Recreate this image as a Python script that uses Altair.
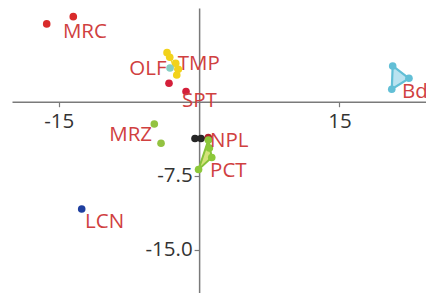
import altair as alt
import pandas as pd

# ---- values ----
pt_series = ["MRC", "MRC", "SPT", "SPT", "TMP", "TMP", "TMP", "TMP", "TMP", "OLF",
             "MRZ", "MRZ", "NPL", "NPL", "NPLr", "PCT", "PCT", "PCT", "PCT", "LCN",
             "BdB", "BdB", "BdB"]
pt_x = [-16.29, -13.45, -3.22, -1.40, -3.43, -3.14, -2.50, -2.22, -2.39, -3.11,
        -4.79, -4.07, -0.44, 0.20, 0.98, 0.99, 1.10, 1.35, -0.06, -12.55,
        20.69, 22.43, 20.59]
pt_y = [7.89, 8.62, 1.87, 1.03, 4.97, 4.50, 3.89, 3.29, 2.71, 3.42,
        -2.26, -4.22, -3.73, -3.73, -3.65, -3.89, -4.69, -5.66, -6.87, -10.88,
        3.62, 2.37, 1.26]

series_names = ["MRC", "SPT", "TMP", "OLF", "MRZ", "NPL", "NPLr", "PCT", "LCN", "BdB"]
series_colors = ["#d92b2b", "#d41f3a", "#f2d21b", "#86cfc3", "#93c241", "#262626",
                 "#b0222e", "#8cc83a", "#1f3f9f", "#62bfd6"]

# outlines (hulls) of groups
hull_group = ["BdB", "BdB", "BdB", "PCT", "PCT", "PCT", "TMP", "TMP", "TMP", "TMP", "TMP",
              "NPL", "NPL", "NPL"]
hull_x = [20.69, 22.43, 20.59, 0.99, 1.35, -0.06, -3.43, -2.50, -2.22, -2.39, -3.14,
          -0.44, 0.20, 0.98]
hull_y = [3.62, 2.37, 1.26, -3.89, -5.66, -6.87, 4.97, 3.89, 3.29, 2.71, 4.50,
          -3.73, -3.73, -3.65]

lab_text = ["MRC", "OLF", "TMP", "SPT", "MRZ", "NPL", "PCT", "LCN", "BdB"]
lab_x = [-14.56, -3.48, -2.29, -1.83, -5.03, 1.17, 1.17, -12.19, 21.69]
lab_y = [7.06, 3.32, 3.83, 0.07, -3.38, -4.03, -7.03, -12.15, 0.98]
lab_align = ["left", "right", "left", "left", "right", "left", "left", "left", "left"]

x_ticks = [-15, 15]
y_ticks = [-7.5, -15.0]
x_dom = [-20, 24.25]
y_dom = [-19.4, 9.5]

W, H = 414, 285
FONT = "Open Sans"
FS = 20.5

pts = pd.DataFrame({"series": pt_series, "x": pt_x, "y": pt_y})
hull = pd.DataFrame({"g": hull_group, "x": hull_x, "y": hull_y})
hull["o"] = range(len(hull))
labs = pd.DataFrame({"t": lab_text, "x": lab_x, "y": lab_y, "a": lab_align})

x_off = -H * (0 - y_dom[0]) / (y_dom[1] - y_dom[0])
y_off = -W * (0 - x_dom[0]) / (x_dom[1] - x_dom[0])

xs = alt.Scale(domain=x_dom, nice=False, zero=False)
ys = alt.Scale(domain=y_dom, nice=False, zero=False)
axis_common = dict(title=None, grid=False, domainColor="#7a7a7a", domainWidth=1.5,
                   tickColor="#7a7a7a", tickWidth=1.2, tickSize=5,
                   labelFont=FONT, labelFontSize=FS, labelColor="#333333",
                   labelExpr="replace(datum.label, '\u2212', '-')")

X = alt.X("x:Q", scale=xs, axis=alt.Axis(values=x_ticks, format="d", offset=x_off,
                                          labelPadding=5, **axis_common))
Y = alt.Y("y:Q", scale=ys, axis=alt.Axis(values=y_ticks, format=".1f", offset=y_off,
                                          labelPadding=2, **axis_common))

layers = []
hull_style = {
    "BdB": dict(fill="#a9dcec", fillOpacity=0.8, stroke="#62bfd6", strokeWidth=2.2,
                interpolate="linear-closed"),
    "PCT": dict(fill="#c9dc5a", fillOpacity=0.8, stroke="#86c23a", strokeWidth=2.0,
                interpolate="linear-closed"),
    "TMP": dict(fill="#f2d21b", fillOpacity=0.35, stroke="#f2d21b", strokeWidth=1.0,
                interpolate="linear-closed"),
    "NPL": dict(stroke="#262626", strokeWidth=2.2, interpolate="linear"),
}
for g, st in hull_style.items():
    layers.append(
        alt.Chart(hull).transform_filter(alt.datum.g == g)
        .mark_line(**st)
        .encode(x=X, y=Y, order="o:Q")
    )

layers.append(
    alt.Chart(pts).mark_circle(size=58, opacity=1).encode(
        x=X, y=Y,
        color=alt.Color("series:N", scale=alt.Scale(domain=series_names, range=series_colors),
                        legend=None),
    )
)

for a in ["left", "right"]:
    layers.append(
        alt.Chart(labs).transform_filter(alt.datum.a == a)
        .mark_text(align=a, baseline="middle", font=FONT, fontSize=FS, color="#d04040")
        .encode(x=X, y=Y, text="t:N")
    )

chart = alt.layer(*layers).properties(
    width=W, height=H, autosize="none",
    padding={"left": 4, "top": 0, "right": 0, "bottom": 0},
).configure_view(stroke=None)

chart.save("out.html", embed_options={"renderer": "svg", "actions": False})
